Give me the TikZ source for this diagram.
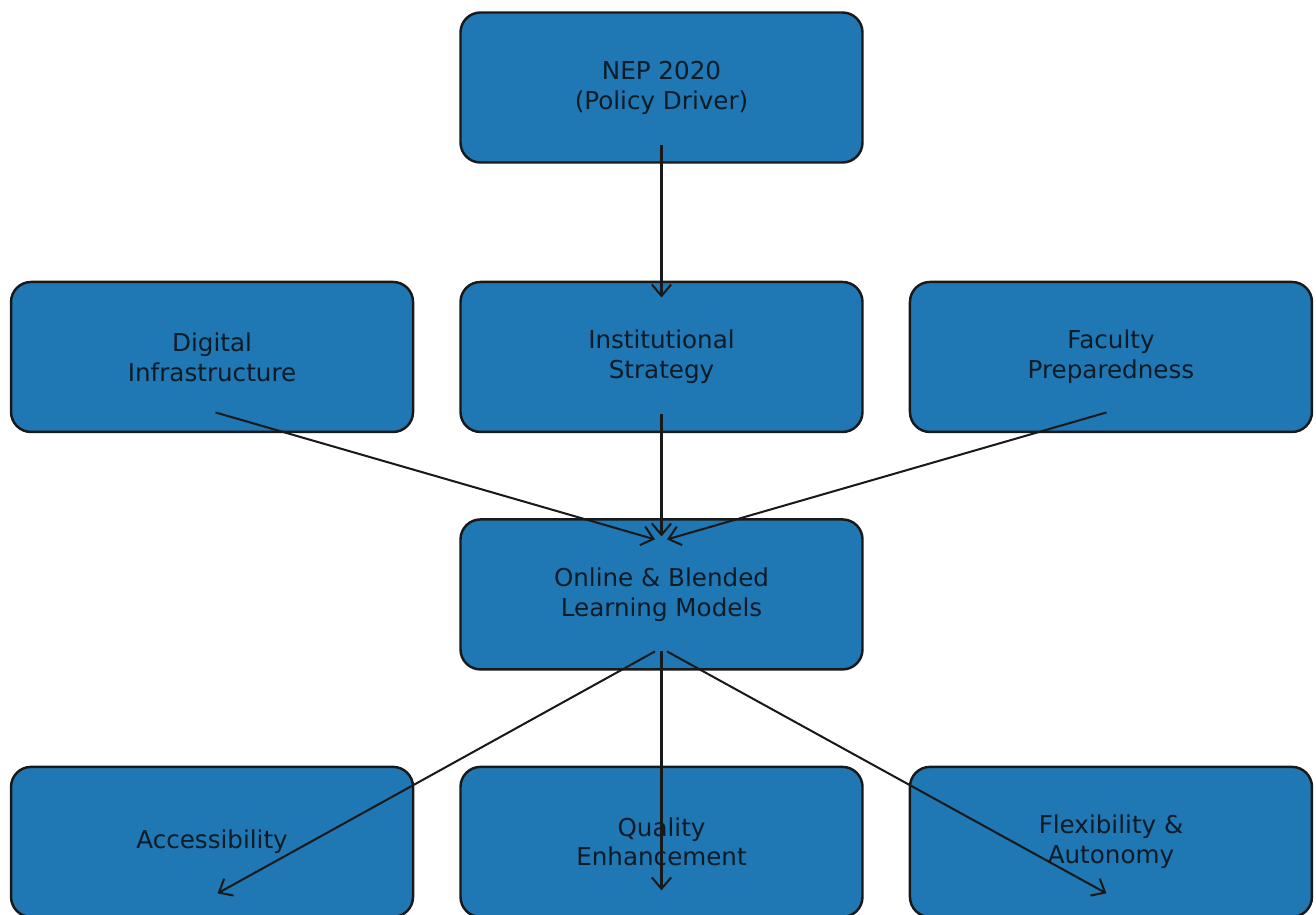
\documentclass[tikz,border=0pt]{standalone}
\usepackage{fontspec}
\setmainfont{DejaVu Sans}
\usepackage{xcolor}
\usepackage{tikz}
\usetikzlibrary{positioning,calc,arrows.meta}
\definecolor{tabblue}{HTML}{1F77B4}
\definecolor{inkdark}{HTML}{0E1A24}

\begin{document}
\begin{tikzpicture}[auto,
        stage/.style={draw=black!90, fill=tabblue, rectangle, rounded corners=0.4cm, line width=1.4pt,
            minimum width=8.04cm, minimum height=3.0cm, align=center, text=inkdark,
            font=\fontsize{14}{17}\selectfont},
        link/.style={-{Straight Barb[length=6.5pt,width=11pt]}, line width=1.15pt, black!90}]
        \useasboundingbox (0,0) rectangle (26.32,-18.3);
        \node [stage] at (13.23,-1.75) (NEP) {NEP 2020\\(Policy Driver)};
        \node [stage, below=2.34cm of NEP] (Inst) {Institutional\\Strategy};
        \node [stage, left=0.9cm of Inst] (Digi) {Digital\\Infrastructure};
        \node [stage, right=0.9cm of Inst] (Fac) {Faculty\\Preparedness};
        \node [stage, below=1.7cm of Inst] (Blend) {Online \& Blended\\Learning Models};
        \node [stage, below=1.9cm of Blend] (Qual) {Quality\\Enhancement};
        \node [stage, left=0.9cm of Qual] (Acc) {Accessibility};
        \node [stage, right=0.9cm of Qual] (Flex) {Flexibility \&\\Autonomy};
        \draw [link] ($(NEP)+(0,-1.15)$) -- ($(Inst)+(0,1.19)$);
        \draw [link] ($(Digi)+(0.07,-1.11)$) -- ($(Blend)+(-0.13,1.1)$);
        \draw [link] ($(Inst)+(0,-1.15)$) -- ($(Blend)+(0,1.16)$);
        \draw [link] ($(Fac)+(-0.09,-1.11)$) -- ($(Blend)+(0.11,1.1)$);
        \draw [link] ($(Blend)+(-0.13,-1.14)$) -- ($(Acc)+(0.11,-1.03)$);
        \draw [link] ($(Blend)+(0,-1.14)$) -- ($(Qual)+(0,-0.97)$);
        \draw [link] ($(Blend)+(0.11,-1.14)$) -- ($(Flex)+(-0.09,-1.03)$);
    \end{tikzpicture}
\end{document}
